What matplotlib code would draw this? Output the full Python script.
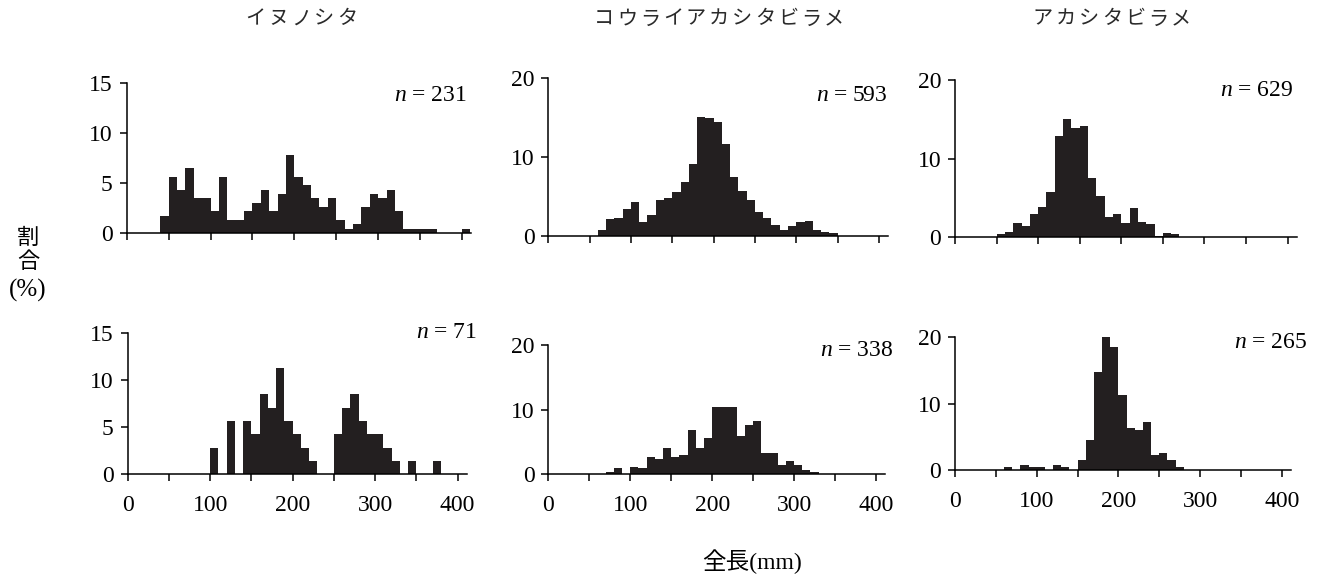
import numpy as np
import matplotlib
matplotlib.use('Agg')
import matplotlib.pyplot as plt

# 全長の階級（下限, mm, 10 mm 幅）
bins = np.arange(0, 410, 10)

# 割合(%) 上段
inu_top = [0, 0, 0, 0, 1.7, 5.6, 4.3, 6.5, 3.5, 3.5,
           2.2, 5.6, 1.3, 1.3, 2.2, 3.0, 4.3, 2.2, 3.9, 7.8,
           5.6, 4.8, 3.5, 2.6, 3.5, 1.3, 0.4, 0.9, 2.6, 3.9,
           3.5, 4.3, 2.2, 0.4, 0.4, 0.4, 0.4, 0, 0, 0,
           0.4]
kourai_top = [0, 0, 0, 0, 0, 0, 0.7, 2.1, 2.3, 3.4,
              4.3, 1.7, 2.6, 4.5, 4.8, 5.5, 6.8, 9.1, 15.1, 15.0,
              14.5, 11.6, 7.5, 5.7, 4.5, 3.0, 2.3, 1.4, 0.7, 1.2,
              1.7, 1.9, 0.7, 0.5, 0.3, 0, 0, 0, 0, 0,
              0]
aka_top = [0, 0, 0, 0, 0, 0.4, 0.7, 1.8, 1.5, 2.9,
           3.9, 5.7, 12.9, 15.1, 13.9, 14.1, 7.5, 5.2, 2.6, 2.9,
           1.8, 3.7, 2.0, 1.7, 0.2, 0.5, 0.4, 0, 0, 0,
           0, 0, 0, 0, 0, 0, 0, 0, 0, 0,
           0]

# 割合(%) 下段
inu_bot = [0, 0, 0, 0, 0, 0, 0, 0, 0, 0,
           2.8, 0, 5.6, 0, 5.6, 4.2, 8.5, 7.0, 11.3, 5.6,
           4.2, 2.8, 1.4, 0, 0, 4.2, 7.0, 8.5, 5.6, 4.2,
           4.2, 2.8, 1.4, 0, 1.4, 0, 0, 1.4, 0, 0,
           0]
kourai_bot = [0, 0, 0, 0, 0, 0, 0, 0.3, 0.9, 0,
              1.2, 0.9, 2.7, 2.4, 4.1, 2.7, 3.0, 6.8, 4.1, 5.6,
              10.4, 10.4, 10.4, 5.9, 7.7, 8.3, 3.3, 3.3, 1.5, 2.1,
              1.5, 0.6, 0.3, 0, 0, 0, 0, 0, 0, 0,
              0]
aka_bot = [0, 0, 0, 0, 0, 0, 0.4, 0, 0.8, 0.4,
           0.4, 0, 0.8, 0.4, 0, 1.5, 4.5, 14.7, 20.0, 18.5,
           11.3, 6.4, 6.0, 7.2, 2.3, 2.6, 1.5, 0.4, 0, 0,
           0, 0, 0, 0, 0, 0, 0, 0, 0, 0,
           0]

species = ['イヌノシタ', 'コウライアカシタビラメ', 'アカシタビラメ']
n_top = [231, 593, 629]
n_bot = [71, 338, 265]
ymax_list = [15, 20, 20]

BAR = '#231f20'
W, H = 1321, 579
CJK = 'Noto Sans CJK JP'

plt.rcParams['font.family'] = ['Liberation Serif', CJK]
plt.rcParams['font.size'] = 17
plt.rcParams['mathtext.fontset'] = 'custom'
plt.rcParams['mathtext.rm'] = 'Liberation Serif'
plt.rcParams['mathtext.it'] = 'Liberation Serif:italic'


def px_rect(x0, ybase, w, h):
    return [x0 / W, (H - ybase) / H, w / W, h / H]


def draw_panel(ax, vals, ymax, show_labels):
    ax.bar(bins, vals, width=10, align='edge', color=BAR, linewidth=0)
    ax.set_xlim(0, 411)
    ax.set_ylim(0, ymax)
    step = 5 if ymax == 15 else 10
    ax.set_yticks(np.arange(0, ymax + 1, step))
    ax.set_xticks([0, 100, 200, 300, 400])
    ax.set_xticks([50, 150, 250, 350], minor=True)
    for s in ['top', 'right']:
        ax.spines[s].set_visible(False)
    for s in ['left', 'bottom']:
        ax.spines[s].set_linewidth(1.1)
    ax.tick_params(which='both', direction='out', length=5, width=1.1)
    ax.tick_params(axis='x', which='major', pad=10, labelbottom=show_labels)
    ax.tick_params(axis='y', pad=5)
    ax.patch.set_alpha(0)


fig = plt.figure(figsize=(W / 100, H / 100), dpi=100)

# axes の位置（ピクセル: 左端, 0 の高さ, 幅, 高さ）
rects_top = [(126.7, 232.7, 344.5, 150.0), (548.3, 235.7, 339.7, 157.4), (955, 237.3, 341.7, 157.3)]
rects_bot = [(127.7, 474.0, 339.0, 141.3), (548.3, 474.3, 336.7, 129.3), (955, 470.0, 335.7, 132.7)]
nlab_top = [(467, 95), (888, 95), (1293, 91)]
nlab_bot = [(477, 333), (893, 350), (1307, 342)]
title_cx = [301, 719, 1112]

top_vals = [inu_top, kourai_top, aka_top]
bot_vals = [inu_bot, kourai_bot, aka_bot]

for i in range(3):
    ax = fig.add_axes(px_rect(*rects_top[i]))
    draw_panel(ax, top_vals[i], ymax_list[i], False)
    ax = fig.add_axes(px_rect(*rects_bot[i]))
    draw_panel(ax, bot_vals[i], ymax_list[i], True)

    x, y = nlab_top[i]
    fig.text(x / W, 1 - y / H, r'$n$ = %d' % n_top[i], ha='right', va='center', fontsize=17)
    x, y = nlab_bot[i]
    fig.text(x / W, 1 - y / H, r'$n$ = %d' % n_bot[i], ha='right', va='center', fontsize=17)

    # 種名（字間を広げて 1 文字ずつ）
    name = species[i]
    pitch = 23
    for k, ch in enumerate(name):
        cx = title_cx[i] + (k - (len(name) - 1) / 2) * pitch
        fig.text(cx / W, 1 - 19 / H, ch, ha='center', va='center', fontsize=14.5,
                 family=CJK, color='#2a2a2a')

# 縦軸ラベル
fig.text(28 / W, 1 - 237 / H, '割', ha='center', va='center', fontsize=16, family=CJK)
fig.text(28 / W, 1 - 261 / H, '合', ha='center', va='center', fontsize=16, family=CJK)
fig.text(28 / W, 1 - 290 / H, '(%)', ha='center', va='center', fontsize=18)

# 横軸ラベル
fig.text(752 / W, 1 - 562 / H, '全長(mm)', ha='center', va='center', fontsize=17)

fig.savefig('out.png', dpi=100)
